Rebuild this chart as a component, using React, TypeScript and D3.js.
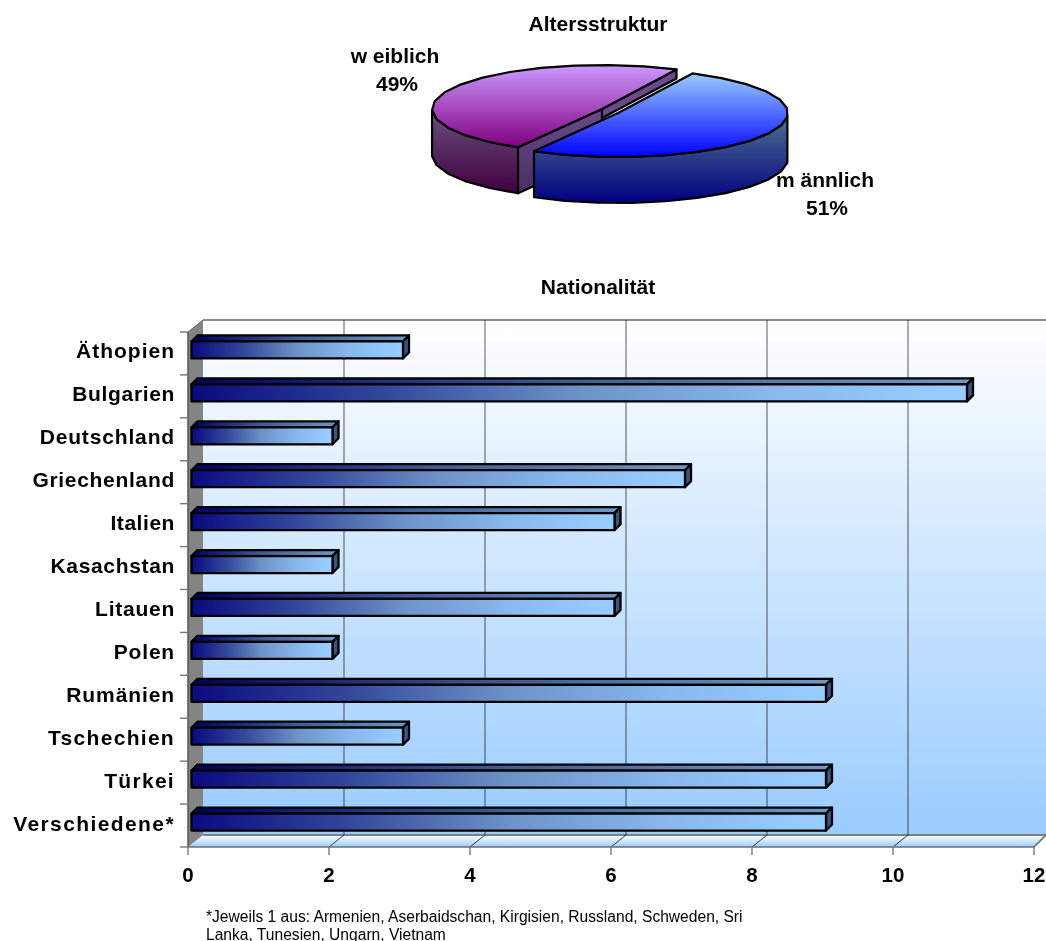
import React from "react";
import * as d3 from "d3";

const categories = ["Äthopien", "Bulgarien", "Deutschland", "Griechenland", "Italien", "Kasachstan", "Litauen", "Polen", "Rumänien", "Tschechien", "Türkei", "Verschiedene*"];
const counts = [3, 11, 2, 7, 6, 2, 6, 2, 9, 3, 9, 9];
const xTicks = [0, 2, 4, 6, 8, 10, 12];
const genderLabels = ["männlich", "weiblich"];
const genderShares = [51, 49];
const footnoteLines = [
  "*Jeweils 1 aus: Armenien, Aserbaidschan, Kirgisien, Russland, Schweden, Sri",
  "Lanka, Tunesien, Ungarn, Vietnam",
];

const FONT = "'Liberation Sans', Arial, sans-serif";
const W = 1046, H = 941;
const LEFT = 188, RIGHT = 1034, TOP = 332, FLOOR = 847;
const DX = 15, DY = 12;

const x = d3.scaleLinear().domain([0, 12]).range([LEFT, RIGHT]);
const y = d3.scaleBand<string>().domain(categories).range([TOP, FLOOR]);

// Letter spacing for the category labels, which are set loosely and unevenly.
const labelSpacing: Record<string, number> = {
  "Äthopien": 1, "Bulgarien": 0.65, "Deutschland": 0.85, "Griechenland": 0.7, "Italien": 0.55, "Kasachstan": 0.66,
  "Litauen": 0.75, "Polen": 0.8, "Rumänien": 0.9, "Tschechien": 1.3, "Türkei": 1.3, "Verschiedene*": 1.4,
};

// Pie slices drawn as coarse polygons on a flattened ellipse.
const pieGen = d3.pie<number>().sort(null).startAngle((26 * Math.PI) / 180).endAngle((386 * Math.PI) / 180);
const slices = pieGen(genderShares);
const RX = 170, RY = 44, THICK = 46;
const centers = [{ cx: 618, cy: 113 }, { cx: 602, cy: 109 }];
const line = d3.line<[number, number]>();

function rim(c: { cx: number; cy: number }, a0: number, a1: number, step = 0.2): [number, number][] {
  const n = Math.max(2, Math.round((a1 - a0) / step));
  return d3.range(n + 1).map((i) => {
    const a = a0 + ((a1 - a0) * i) / n;
    return [c.cx + RX * Math.sin(a), c.cy - RY * Math.cos(a)] as [number, number];
  });
}
const drop = (pts: [number, number][]) => pts.map(([px, py]) => [px, py + THICK] as [number, number]);

function PieChart() {
  const [male, female] = slices;
  const mc = centers[0], fc = centers[1];
  const maleRim = rim(mc, male.startAngle, male.endAngle);
  const femaleRim = rim(fc, female.startAngle, female.endAngle);
  const maleTop = [[mc.cx, mc.cy] as [number, number], ...maleRim];
  const femaleTop = [[fc.cx, fc.cy] as [number, number], ...femaleRim];

  // Only the part of each rim facing the viewer gets an outer wall.
  const maleFront = maleRim.filter(([, py]) => py >= mc.cy - 1);
  const femaleFront = femaleRim.filter(([, py]) => py >= fc.cy - 3);

  const maleWall = [...maleFront, ...drop(maleFront).reverse()];
  const femaleWall = [...femaleFront, ...drop(femaleFront).reverse()];

  const fApex = femaleRim[0];
  const fBack = femaleRim[femaleRim.length - 1];
  const fCenter: [number, number] = [fc.cx, fc.cy];
  const cutFront: [number, number][] = [fApex, fCenter, [fCenter[0], fCenter[1] + THICK], [fApex[0], fApex[1] + THICK]];
  const cutBack: [number, number][] = [fCenter, fBack, [fBack[0], fBack[1] + 9], [fCenter[0], fCenter[1] + 9]];

  const stroke = { stroke: "#000", strokeWidth: 2.2, strokeLinejoin: "round" as const };
  const labelStyle = { fontFamily: FONT, fontWeight: "bold", fontSize: 21, fill: "#000" };
  return (
    <g>
      <path d={line(femaleWall)! + "Z"} fill="url(#femaleSide)" {...stroke} />
      <path d={line(cutFront)! + "Z"} fill="url(#femaleCut)" {...stroke} />
      <path d={line(cutBack)! + "Z"} fill="#6a4a8c" {...stroke} />
      <path d={line(femaleTop)! + "Z"} fill="url(#femaleTop)" {...stroke} />
      <path d={line(maleWall)! + "Z"} fill="url(#maleSide)" {...stroke} />
      <path d={line(maleTop)! + "Z"} fill="url(#maleTop)" {...stroke} />
      <text x={395} y={63} textAnchor="middle" {...labelStyle}>w eiblich</text>
      <text x={397} y={91} textAnchor="middle" {...labelStyle}>{genderShares[1]}%</text>
      <text x={825} y={187} textAnchor="middle" {...labelStyle}>m ännlich</text>
      <text x={827} y={215} textAnchor="middle" {...labelStyle}>{genderShares[0]}%</text>
      <title>{genderLabels.join(", ")}</title>
    </g>
  );
}

function BarChart() {
  const band = y.bandwidth();
  const depth = 6, barH = 17, inset = 3.5;
  const backX = (v: number) => x(v) + DX;
  return (
    <g>
      {/* back wall */}
      <rect x={LEFT + DX} y={TOP - DY} width={W - LEFT} height={FLOOR - TOP} fill="url(#wall)" />
      {/* floor */}
      <path d={`M${LEFT},${FLOOR}L${LEFT + DX},${FLOOR - DY}H${W}V${FLOOR - DY}L${RIGHT},${FLOOR}Z`} fill="url(#floor)" />
      <line x1={LEFT + DX} x2={W} y1={TOP - DY} y2={TOP - DY} stroke="#8c8c8c" strokeWidth={2} />
      <line x1={LEFT + DX} x2={W} y1={FLOOR - DY} y2={FLOOR - DY} stroke="#808080" strokeWidth={2} />
      {xTicks.slice(1, -1).map((t) => (
        <g key={t}>
          <line x1={backX(t)} x2={backX(t)} y1={TOP - DY} y2={FLOOR - DY} stroke="#808080" strokeWidth={1.3} style={{ mixBlendMode: "multiply" }} />
          <line x1={x(t)} x2={backX(t)} y1={FLOOR} y2={FLOOR - DY} stroke="#222" strokeWidth={0.9} />
        </g>
      ))}
      {/* side wall */}
      <path d={`M${LEFT},${TOP}L${LEFT + DX},${TOP - DY}V${FLOOR - DY}L${LEFT},${FLOOR}Z`} fill="#848484" />
      <line x1={LEFT} x2={LEFT} y1={TOP} y2={FLOOR} stroke="#555" strokeWidth={1.5} />
      <line x1={LEFT} x2={LEFT + DX} y1={TOP} y2={TOP - DY} stroke="#666" strokeWidth={1} />
      <path d={`M${LEFT},${FLOOR}H${RIGHT}L${W},${FLOOR - DY}`} fill="none" stroke="#6e6e6e" strokeWidth={1.6} />

      {/* axis ticks */}
      {categories.map((c) => (
        <line key={c} x1={LEFT - 8} x2={LEFT} y1={y(c)!} y2={y(c)!} stroke="#777" strokeWidth={1.4} />
      ))}
      <line x1={LEFT - 8} x2={LEFT} y1={FLOOR} y2={FLOOR} stroke="#777" strokeWidth={1.4} />
      {xTicks.map((t) => (
        <g key={t}>
          <line x1={x(t)} x2={x(t)} y1={FLOOR} y2={FLOOR + 8} stroke="#777" strokeWidth={1.4} />
          <text x={x(t)} y={FLOOR + 34.5} textAnchor="middle" fontFamily={FONT} fontWeight="bold" fontSize={20.5} fill="#000">{t}</text>
        </g>
      ))}

      {/* bars */}
      {categories.map((c, i) => {
        const x0 = x(0) + inset;
        const x1 = x0 + (x(counts[i]) - x(0));
        const yBottom = y(c)! + band / 2 + 5;
        const yTop = yBottom - barH;
        const top = `M${x0},${yTop}L${x0 + depth},${yTop - depth}H${x1 + depth}L${x1},${yTop}Z`;
        const end = `M${x1},${yTop}L${x1 + depth},${yTop - depth}V${yBottom - depth}L${x1},${yBottom}Z`;
        return (
          <g key={c} stroke="#000" strokeWidth={2.3} strokeLinejoin="round">
            <path d={top} fill="url(#barTop)" />
            <path d={end} fill="#3c5580" />
            <rect x={x0} y={yTop} width={x1 - x0} height={barH} fill="url(#barFront)" />
          </g>
        );
      })}

      {/* category labels */}
      {categories.map((c) => (
        <text key={c} x={175} y={y(c)! + band / 2 + 5} textAnchor="end" fontFamily={FONT} fontWeight="bold" fontSize={21}
          letterSpacing={labelSpacing[c]} fill="#000">{c}</text>
      ))}
    </g>
  );
}

export default function App() {
  return (
    <svg width={W} height={H} viewBox={`0 0 ${W} ${H}`} style={{ position: "absolute", left: 0, top: 0, display: "block", background: "#fff" }}>
      <defs>
        <linearGradient id="wall" x1="0" y1="0" x2="0" y2="1">
          <stop offset="0" stopColor="#ffffff" />
          <stop offset="1" stopColor="#99ccff" />
        </linearGradient>
        <linearGradient id="floor" x1="0" y1="0" x2="0" y2="1">
          <stop offset="0" stopColor="#ffffff" />
          <stop offset="1" stopColor="#99ccff" />
        </linearGradient>
        <linearGradient id="barFront" x1="0" y1="0" x2="1" y2="0">
          <stop offset="0" stopColor="#0a0a80" />
          <stop offset="0.25" stopColor="#33489a" />
          <stop offset="0.5" stopColor="#6c93c8" />
          <stop offset="0.75" stopColor="#88b8ec" />
          <stop offset="0.95" stopColor="#96caff" />
          <stop offset="1" stopColor="#99ccff" />
        </linearGradient>
        <linearGradient id="barTop" x1="0" y1="0" x2="1" y2="0">
          <stop offset="0" stopColor="#000060" />
          <stop offset="0.5" stopColor="#3f5f96" />
          <stop offset="1" stopColor="#6f99c4" />
        </linearGradient>
        <linearGradient id="maleTop" x1="0" y1="0" x2="0" y2="1">
          <stop offset="0" stopColor="#99ccff" />
          <stop offset="1" stopColor="#0000ff" />
        </linearGradient>
        <linearGradient id="femaleTop" x1="0" y1="0" x2="0" y2="1">
          <stop offset="0" stopColor="#cc99ff" />
          <stop offset="1" stopColor="#800080" />
        </linearGradient>
        <linearGradient id="maleSide" x1="0" y1="0" x2="0" y2="1">
          <stop offset="0" stopColor="#4f7090" />
          <stop offset="1" stopColor="#000080" />
        </linearGradient>
        <linearGradient id="femaleSide" x1="0" y1="0" x2="0" y2="1">
          <stop offset="0" stopColor="#6a4f80" />
          <stop offset="1" stopColor="#400040" />
        </linearGradient>
        <linearGradient id="femaleCut" x1="0" y1="0" x2="0" y2="1">
          <stop offset="0" stopColor="#6a4a8c" />
          <stop offset="1" stopColor="#4a2f60" />
        </linearGradient>
      </defs>
      <text x={598} y={31} textAnchor="middle" fontFamily={FONT} fontWeight="bold" fontSize={21} fill="#000">Altersstruktur</text>
      <PieChart />
      <text x={598} y={294} textAnchor="middle" fontFamily={FONT} fontWeight="bold" fontSize={21} fill="#000">Nationalität</text>
      <BarChart />
      {footnoteLines.map((t, i) => (
        <text key={t} x={206} y={922 + i * 18} fontFamily={FONT} fontSize={15.6} fill="#000">{t}</text>
      ))}
    </svg>
  );
}
